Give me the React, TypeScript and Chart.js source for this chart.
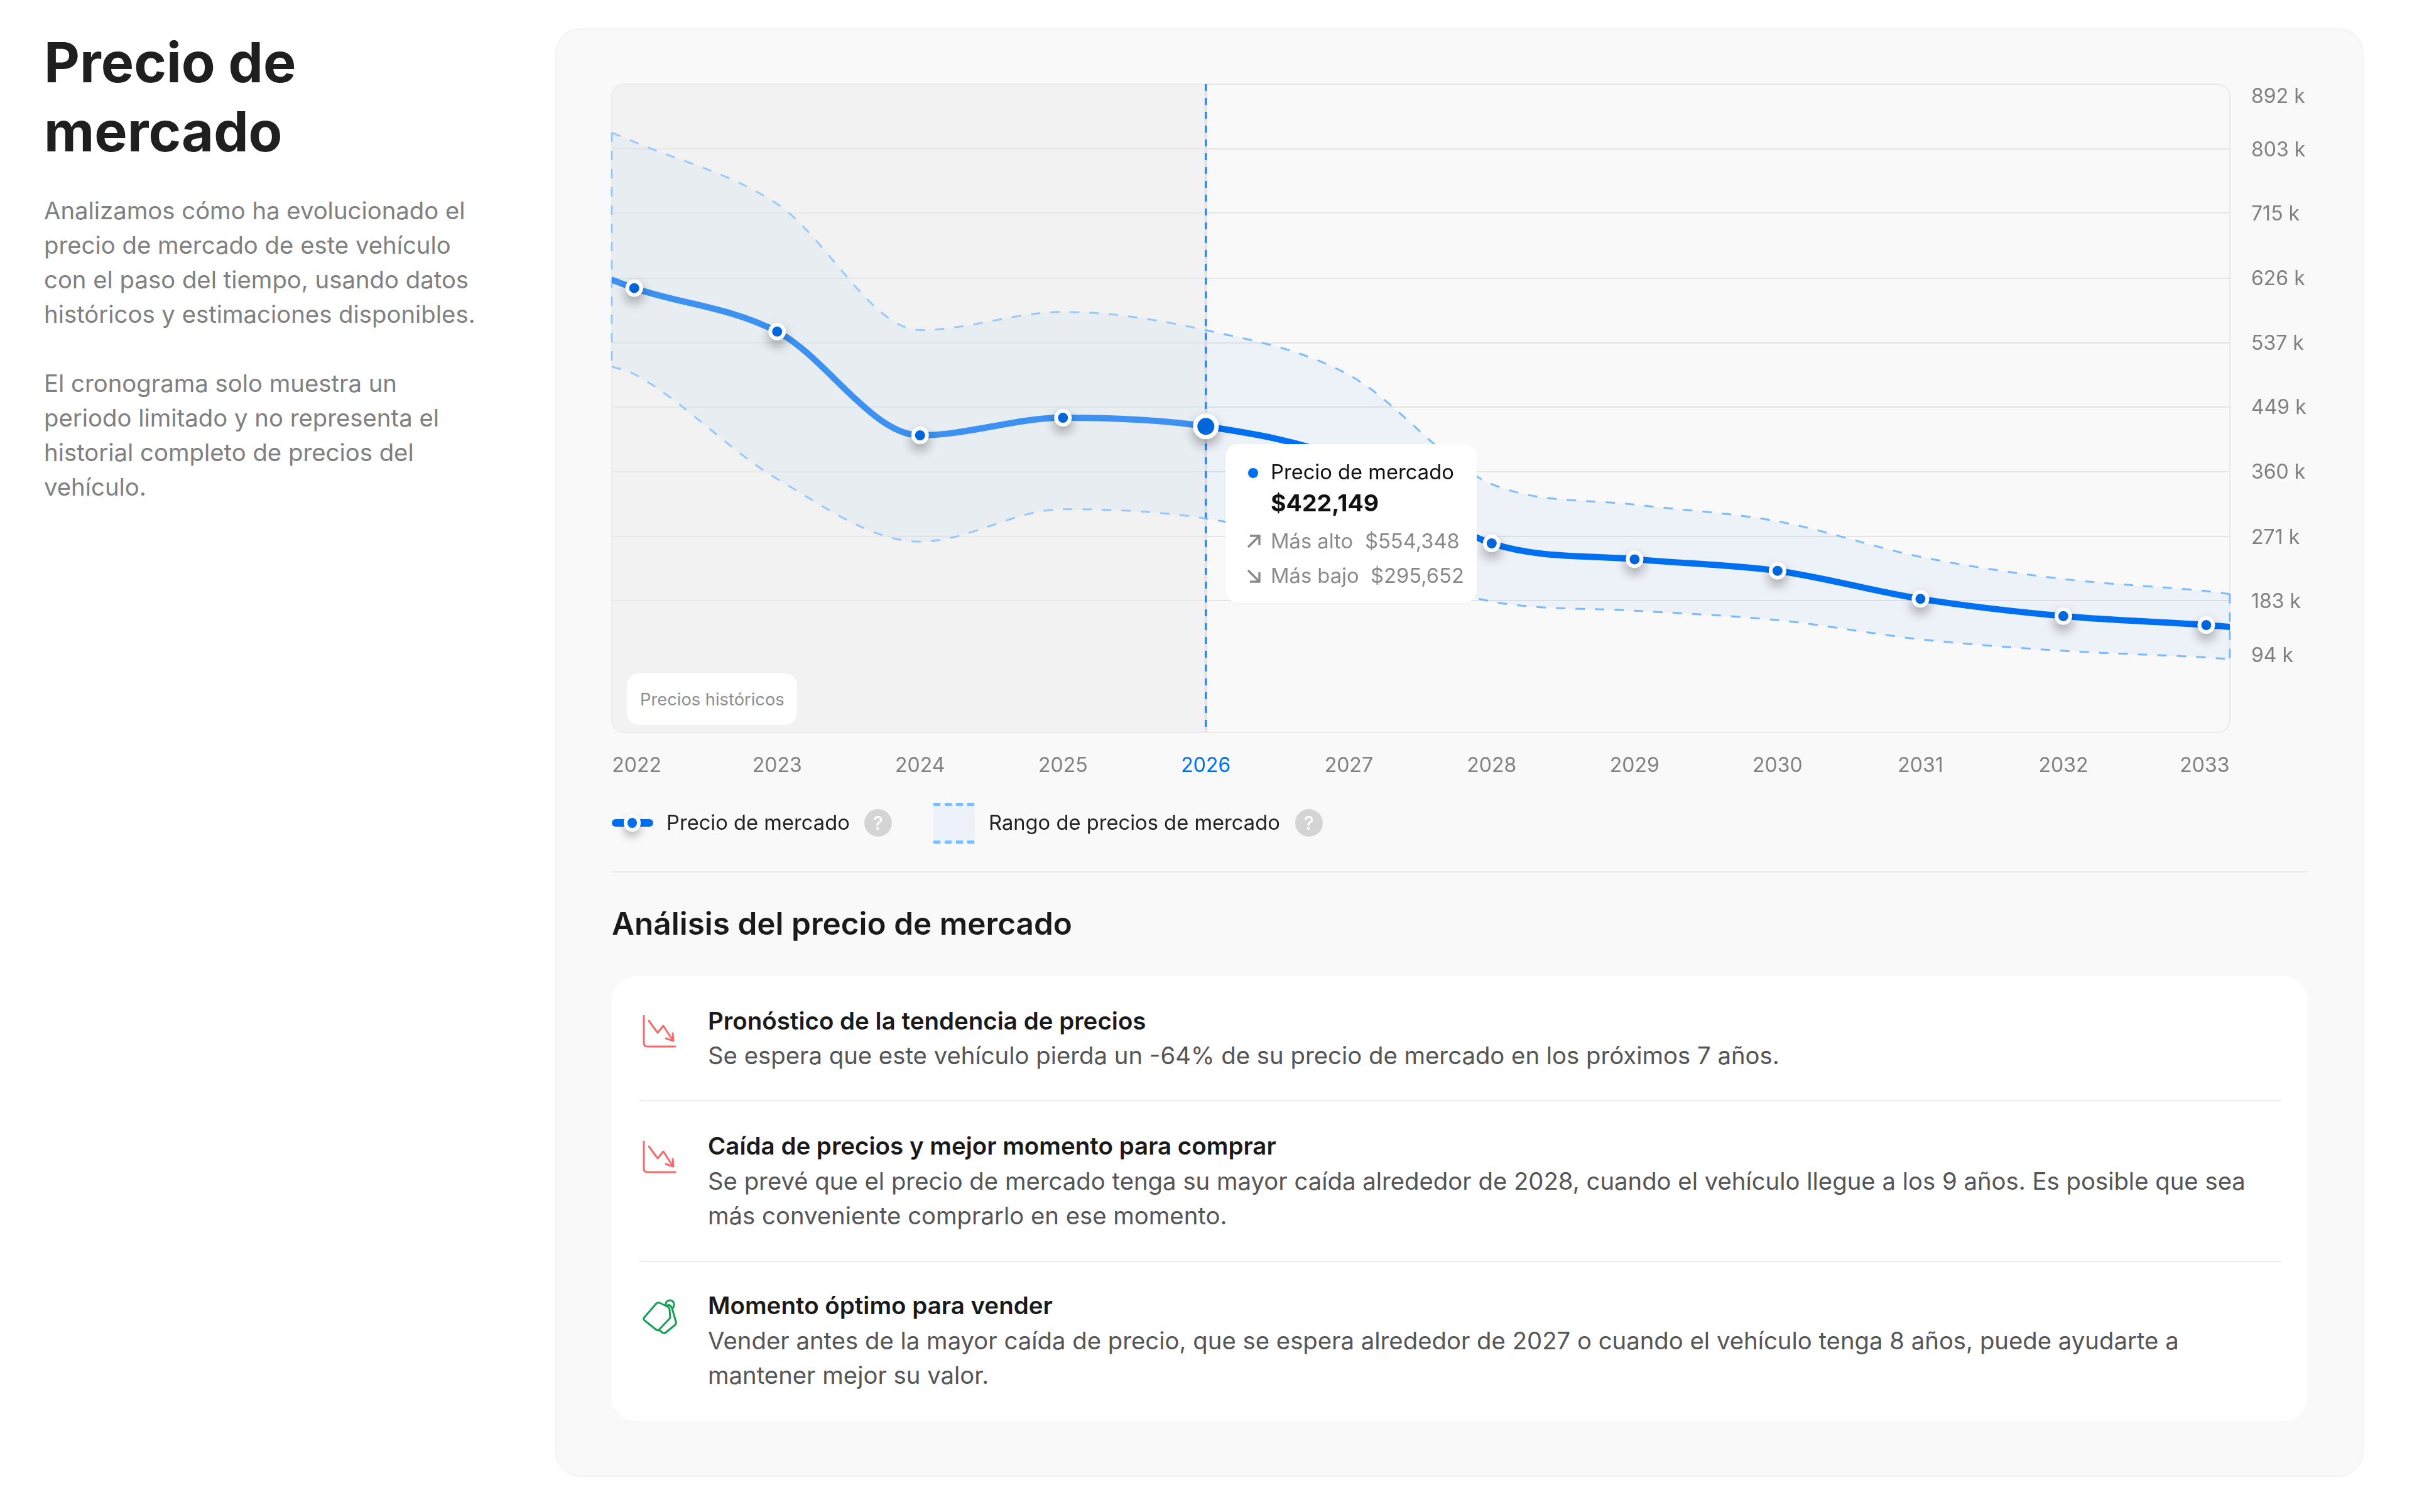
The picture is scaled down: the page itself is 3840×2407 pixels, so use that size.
import React, { useEffect, useRef } from "react";
import { Chart, registerables } from "chart.js";

Chart.register(...registerables);

const FONT = "Inter, 'Noto Sans', sans-serif";

// ---- data (thousands of dollars) ----
const years = [2022, 2023, 2024, 2025, 2026, 2027, 2028, 2029, 2030, 2031, 2032, 2033];
const price = [612.1, 552.4, 409.9, 434, 422.149, 375, 261.5, 239.6, 223.8, 185.3, 161.6, 149.3];
const high = [813, 727.7, 554.4, 579.4, 554.348, 493, 343, 314.7, 291.8, 243, 212.5, 195.9];
const low = [494, 350, 263.8, 308.4, 295.652, 248, 181.5, 169, 156, 129.7, 113.9, 104.7];
const axisEnds = [2021.843, 2033.165];
const priceEnds = [623.5, 146.7];
const highEnds = [825.7, 191.8];
const lowEnds = [504.3, 102.4];
const yTicks = [892, 803, 715, 626, 537, 449, 360, 271, 183, 94];
const selectedYear = 2026;
const yMin = 1.8;
const yMax = 892.2;

const selIdx = years.indexOf(selectedYear);
const money = (v: number) => "$" + Math.round(v * 1000).toLocaleString("en-US");
const series = (vals: number[], ends: number[]) => [
  { x: axisEnds[0], y: ends[0] },
  ...vals.map((y, i) => ({ x: years[i], y })),
  { x: axisEnds[1], y: ends[1] },
];

const BLUE = "#0070f0";
const DASH = "#7dbdff";

const chartPlugin = {
  id: "marketDecor",
  beforeDraw(chart: any) {
    const { ctx, chartArea: a, scales } = chart;
    // move first/last x labels and the outer y labels inside the frame
    scales.x.getLabelItems().forEach((it: any) => {
      if (it.label === String(years[0])) it.options.translation[0] = scales.x.getPixelForValue(years[0]) + 4;
      if (it.label === String(years[years.length - 1])) it.options.translation[0] = scales.x.getPixelForValue(years[years.length - 1]) - 2.5;
    });
    scales.y.getLabelItems().forEach((it: any) => {
      if (it.label === `${yTicks[0]} k`) it.options.translation[1] = scales.y.getPixelForValue(yTicks[0]) + 18;
      else if (it.label === `${yTicks[yTicks.length - 1]} k`) it.options.translation[1] = scales.y.getPixelForValue(yTicks[yTicks.length - 1]) - 17;
      it.options.translation[1] += 2;
    });
    const xs = scales.x.getPixelForValue(selectedYear);
    ctx.save();
    ctx.beginPath();
    ctx.roundRect(a.left, a.top, a.right - a.left, a.bottom - a.top, 20);
    ctx.clip();
    ctx.fillStyle = "#f2f2f2";
    ctx.fillRect(a.left, a.top, xs - a.left, a.bottom - a.top);
    ctx.restore();
  },
  beforeDatasetsDraw(chart: any) {
    const { ctx, chartArea: a, scales } = chart;
    ctx.save();
    // frame
    ctx.beginPath();
    ctx.roundRect(a.left, a.top, a.right - a.left, a.bottom - a.top, 20);
    ctx.lineWidth = 2;
    ctx.strokeStyle = "#e9e9e9";
    ctx.stroke();
    // selected-year line
    const xs = scales.x.getPixelForValue(selectedYear);
    ctx.beginPath();
    ctx.moveTo(xs, a.top);
    ctx.lineTo(xs, a.bottom);
    ctx.lineWidth = 4;
    ctx.strokeStyle = "#e2e2e2";
    ctx.stroke();
    ctx.beginPath();
    ctx.moveTo(xs, a.top);
    ctx.lineTo(xs, a.bottom);
    ctx.lineWidth = 3;
    ctx.setLineDash([11, 11]);
    ctx.strokeStyle = "#2a7de8";
    ctx.stroke();
    // dashed ends of the band
    ctx.lineWidth = 3;
    ctx.setLineDash([15, 14]);
    const edge = (x: number, hi: number, lo: number) => {
      ctx.beginPath();
      ctx.moveTo(scales.x.getPixelForValue(x), scales.y.getPixelForValue(hi));
      ctx.lineTo(scales.x.getPixelForValue(x), scales.y.getPixelForValue(lo));
      ctx.strokeStyle = DASH;
      ctx.stroke();
    };
    edge(axisEnds[0], highEnds[0], lowEnds[0]);
    edge(axisEnds[1], highEnds[1], lowEnds[1]);
    ctx.restore();
  },
  beforeDatasetDraw(chart: any, args: any) {
    if (args.index !== 0) return;
    const { ctx, chartArea: a, scales } = chart;
    // the historical area veils the band and the line, but not the markers
    const xs = scales.x.getPixelForValue(selectedYear);
    ctx.save();
    ctx.beginPath();
    ctx.roundRect(a.left - 2, a.top, a.right - a.left + 2, a.bottom - a.top, 20);
    ctx.clip();
    ctx.fillStyle = "rgba(242,242,242,0.25)";
    ctx.fillRect(a.left - 2, a.top, xs - a.left, a.bottom - a.top);
    ctx.restore();
    ctx.save();
    ctx.shadowColor = "rgba(0,0,0,0.28)";
    ctx.shadowBlur = 18;
    ctx.shadowOffsetY = 9;
  },
  afterDatasetDraw(chart: any, args: any) {
    if (args.index === 0) chart.ctx.restore();
  },
};

function MarketChart() {
  const ref = useRef<HTMLCanvasElement>(null);
  useEffect(() => {
    const chart = new Chart(ref.current as any, {
      type: "line",
      plugins: [chartPlugin as any],
      data: {
        datasets: [
          {
            data: years.map((x, i) => ({ x, y: price[i] })),
            showLine: false,
            pointRadius: years.map((y) => (y === selectedYear ? 17 : 11)),
            pointBorderWidth: years.map((y) => (y === selectedYear ? 7 : 6)),
            pointBackgroundColor: BLUE,
            pointBorderColor: "#ffffff",
            clip: false,
          },
          {
            data: series(price, priceEnds),
            borderColor: BLUE,
            borderWidth: 10,
            borderCapStyle: "round",
            cubicInterpolationMode: "monotone",
            pointRadius: 0,
          },
          {
            data: series(high, highEnds),
            borderColor: DASH,
            borderWidth: 3,
            borderDash: [15, 16],
            cubicInterpolationMode: "monotone",
            pointRadius: 0,
            fill: "+1",
            backgroundColor: "rgba(0,112,240,0.05)",
          },
          {
            data: series(low, lowEnds),
            borderColor: DASH,
            borderWidth: 3,
            borderDash: [15, 16],
            cubicInterpolationMode: "monotone",
            pointRadius: 0,
            fill: false,
          },
        ],
      } as any,
      options: {
        animation: false,
        responsive: false,
        devicePixelRatio: 1,
        layout: { padding: { left: 94, top: 34, right: 0, bottom: 0 } },
        plugins: { legend: { display: false }, tooltip: { enabled: false } },
        events: [],
        scales: {
          x: {
            type: "linear",
            min: axisEnds[0],
            max: axisEnds[1],
            afterBuildTicks: (s: any) => {
              s.ticks = years.map((value) => ({ value }));
            },
            afterFit: (s: any) => {
              s.height = 114;
              s.paddingLeft = 0;
              s.paddingRight = 0;
            },
            grid: { display: false },
            border: { display: false },
            ticks: {
              autoSkip: false,
              maxRotation: 0,
              padding: 26,
              font: { family: FONT, size: 32 },
              color: (c: any) => (c.tick.value === selectedYear ? BLUE : "#808080"),
              callback: (v: any) => String(v),
            },
          },
          y: {
            position: "right",
            min: yMin,
            max: yMax,
            afterBuildTicks: (s: any) => {
              s.ticks = yTicks.map((value) => ({ value }));
            },
            afterFit: (s: any) => {
              s.width = 180;
              s.paddingTop = 0;
              s.paddingBottom = 0;
            },
            grid: {
              drawTicks: false,
              lineWidth: 2,
              color: (c: any) =>
                c.tick && (c.tick.value === yTicks[0] || c.tick.value === yTicks[yTicks.length - 1])
                  ? "rgba(0,0,0,0)"
                  : "#e5e5e5",
            },
            border: { display: false },
            ticks: {
              autoSkip: false,
              padding: 34,
              crossAlign: "near",
              font: { family: FONT, size: 32 },
              color: "#808080",
              callback: (v: any) => `${v} k`,
            },
          },
        },
      } as any,
    });
    return () => chart.destroy();
  }, []);
  return (
    <canvas
      ref={ref}
      width={2850}
      height={1180}
      style={{ position: "absolute", left: 880, top: 100, width: 2850, height: 1180 }}
    />
  );
}

function T(p: { x: number; y: number; s: number; w?: number; c: string; children: any }) {
  return (
    <div
      style={{
        position: "absolute",
        left: p.x,
        top: p.y - p.s,
        height: p.s * 2,
        lineHeight: `${p.s * 2}px`,
        fontSize: p.s,
        fontWeight: p.w || 400,
        color: p.c,
        whiteSpace: "nowrap",
      }}
    >
      {p.children}
    </div>
  );
}

function Box(p: { x: number; y: number; w: number; h: number; style?: any }) {
  return <div style={{ position: "absolute", left: p.x, top: p.y, width: p.w, height: p.h, ...p.style }} />;
}

function ChartIcon({ x, y }: { x: number; y: number }) {
  return (
    <svg style={{ position: "absolute", left: x, top: y }} width={54} height={54} viewBox="0 0 54 54" fill="none" stroke="#f56b6b" strokeWidth={3} strokeLinecap="round" strokeLinejoin="round">
      <path d="M2 1V44Q2 50 8 50H52" />
      <path d="M10 9L24 28L33 17L48 40" />
      <path d="M48 29L49 41L37 37" />
    </svg>
  );
}

function TagIcon({ x, y }: { x: number; y: number }) {
  return (
    <svg style={{ position: "absolute", left: x, top: y }} width={56} height={56} viewBox="0 0 56 56" fill="none" stroke="#12a150" strokeWidth={3} strokeLinecap="round" strokeLinejoin="round">
      <path d="M2 30L22 7Q24 5 27 6L40 12Q43 14 43 17L44 30L26 49Q24 51 22 49L3 34Q1 32 2 30Z" />
      <path d="M37 11Q36 3 43 2Q50 2 50 9Q50 13 47 15L53 36Q54 39 52 41L36 54Q33 55 31 53L26 49" />
      <path d="M40 10Q44 8 47 15" />
    </svg>
  );
}

function Question({ x, y }: { x: number; y: number }) {
  return (
    <div
      style={{
        position: "absolute",
        left: x - 22,
        top: y - 22,
        width: 44,
        height: 44,
        borderRadius: 22,
        background: "#d4d4d4",
        color: "#fff",
        fontSize: 30,
        fontWeight: 500,
        lineHeight: "44px",
        textAlign: "center",
      }}
    >
      ?
    </div>
  );
}

function Arrow({ x, y, up }: { x: number; y: number; up: boolean }) {
  return (
    <svg style={{ position: "absolute", left: x, top: y }} width={22} height={22} viewBox="0 0 22 22" fill="none" stroke="#8a8a8a" strokeWidth={3.4}>
      {up ? <path d="M2 20L20 2M5 2H20V17" /> : <path d="M2 2L20 20M5 20H20V5" />}
    </svg>
  );
}

const paragraph1 = [
  "Analizamos cómo ha evolucionado el",
  "precio de mercado de este vehículo",
  "con el paso del tiempo, usando datos",
  "históricos y estimaciones disponibles.",
];
const paragraph2 = [
  "El cronograma solo muestra un",
  "periodo limitado y no representa el",
  "historial completo de precios del",
  "vehículo.",
];

export default function App() {
  const bodyC = "#555555";
  const headC = "#1a1a1a";
  return (
    <div
      style={{
        position: "absolute",
        left: 0,
        top: 0,
        width: 3840,
        height: 2407,
        overflow: "hidden",
        background: "#ffffff",
        fontFamily: FONT,
      }}
    >
      <T x={70} y={99} s={88} w={700} c="#1f1f1f">Precio de</T>
      <T x={70} y={209} s={88} w={700} c="#1f1f1f">mercado</T>
      {paragraph1.map((l, i) => (
        <T key={l} x={70} y={335 + i * 55} s={38.3} c="#808080">{l}</T>
      ))}
      {paragraph2.map((l, i) => (
        <T key={l} x={70} y={610 + i * 55} s={38.3} c="#808080">{l}</T>
      ))}

      <Box x={884} y={45} w={2879} h={2306} style={{ background: "#f9f9f9", border: "2px solid #f3f3f3", borderRadius: 40, boxSizing: "border-box" }} />

      <MarketChart />

      {/* historical pill */}
      <Box x={998} y={1072} w={271} h={82} style={{ background: "#fff", borderRadius: 20 }} />
      <T x={1019} y={1114} s={27.3} c="#8e8e8e">Precios históricos</T>

      {/* tooltip */}
      <Box x={1951} y={707} w={400} h={253} style={{ background: "#fff", borderRadius: 20, boxShadow: "0 1px 3px rgba(0,0,0,0.04)" }} />
      <Box x={1987} y={745} w={16} h={16} style={{ background: BLUE, borderRadius: 8 }} />
      <T x={2023} y={752} s={32.7} c="#111">Precio de mercado</T>
      <T x={2023} y={800} s={37.5} w={700} c="#111">{money(price[selIdx])}</T>
      <Arrow x={1985} y={851} up />
      <T x={2023} y={862} s={32.7} c="#8a8a8a">Más alto</T>
      <T x={2173} y={862} s={32.7} c="#8a8a8a">{money(high[selIdx])}</T>
      <Arrow x={1985} y={906} up={false} />
      <T x={2023} y={917} s={32.7} c="#8a8a8a">Más bajo</T>
      <T x={2182} y={917} s={32.7} c="#8a8a8a">{money(low[selIdx])}</T>

      {/* legend */}
      <Box x={974} y={1304} w={66} h={12} style={{ background: BLUE, borderRadius: 6 }} />
      <Box x={993} y={1296} w={27} h={28} style={{ background: BLUE, border: "6px solid #fff", borderRadius: 14, boxSizing: "border-box", boxShadow: "0 8px 14px rgba(0,0,0,0.25)" }} />
      <T x={1061} y={1310} s={32.7} c="#222">Precio de mercado</T>
      <Question x={1398} y={1310} />
      <Box x={1486} y={1278} w={66} h={65} style={{ background: "#edf2fa" }} />
      <Box x={1486} y={1278} w={66} h={5} style={{ background: "repeating-linear-gradient(90deg,#7dbdff 0 11px,transparent 11px 18px)" }} />
      <Box x={1486} y={1338} w={66} h={5} style={{ background: "repeating-linear-gradient(90deg,#7dbdff 0 11px,transparent 11px 18px)" }} />
      <T x={1574} y={1310} s={32.7} c="#222">Rango de precios de mercado</T>
      <Question x={2084} y={1310} />

      <Box x={974} y={1387} w={2700} h={2} style={{ background: "#e9e9e9" }} />
      <T x={974} y={1470} s={49.5} w={600} c={headC}>Análisis del precio de mercado</T>

      {/* analysis card */}
      <Box x={973} y={1554} w={2701} h={708} style={{ background: "#fff", borderRadius: 39 }} />
      <ChartIcon x={1023} y={1616} />
      <T x={1127} y={1625} s={38.5} w={600} c={headC}>Pronóstico de la tendencia de precios</T>
      <T x={1127} y={1680} s={38.3} c={bodyC}>Se espera que este vehículo pierda un -64% de su precio de mercado en los próximos 7 años.</T>
      <Box x={1017} y={1751} w={2615} h={2} style={{ background: "#ececec" }} />
      <ChartIcon x={1023} y={1816} />
      <T x={1127} y={1824} s={38.5} w={600} c={headC}>Caída de precios y mejor momento para comprar</T>
      <T x={1127} y={1880} s={38.3} c={bodyC}>Se prevé que el precio de mercado tenga su mayor caída alrededor de 2028, cuando el vehículo llegue a los 9 años. Es posible que sea</T>
      <T x={1127} y={1935} s={38.3} c={bodyC}>más conveniente comprarlo en ese momento.</T>
      <Box x={1017} y={2007} w={2615} h={2} style={{ background: "#ececec" }} />
      <TagIcon x={1023} y={2068} />
      <T x={1127} y={2078} s={38.5} w={600} c={headC}>Momento óptimo para vender</T>
      <T x={1127} y={2134} s={38.3} c={bodyC}>Vender antes de la mayor caída de precio, que se espera alrededor de 2027 o cuando el vehículo tenga 8 años, puede ayudarte a</T>
      <T x={1127} y={2189} s={38.3} c={bodyC}>mantener mejor su valor.</T>
    </div>
  );
}
